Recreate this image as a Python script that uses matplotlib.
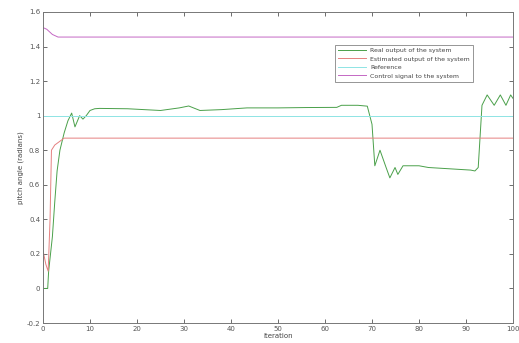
import numpy as np
import matplotlib.pyplot as plt

# values
t_real = [0, 1, 1.2, 2, 2.5, 3, 3.6, 4.5, 5.3, 6.1, 6.8, 7.8, 8.5, 9.2, 10, 11, 12, 18, 25,
          29, 31, 33.4, 38, 43.4, 50, 56, 62.5, 63.5, 67, 69, 70, 70.6, 71.7, 73, 73.8, 74.9,
          75.5, 76.6, 80, 82, 85, 88, 91, 91.9, 92.6, 93.4, 94.5, 96, 97.3, 98.5, 99.5, 100]
y_real = [0, 0, 0.1, 0.3, 0.5, 0.68, 0.8, 0.9, 0.97, 1.015, 0.935, 1.0, 0.98, 1.0, 1.03, 1.04, 1.042, 1.04, 1.03,
          1.045, 1.056, 1.03, 1.035, 1.045, 1.045, 1.047, 1.048, 1.06, 1.06, 1.055, 0.95, 0.71, 0.80, 0.70, 0.64, 0.70,
          0.66, 0.71, 0.71, 0.70, 0.695, 0.69, 0.685, 0.68, 0.70, 1.06, 1.12, 1.06, 1.12, 1.06, 1.12, 1.10]

t_est = [0, 0.6, 1.1, 1.5, 1.8, 2.5, 3.5, 4.5, 100]
y_est = [0.22, 0.14, 0.1, 0.4, 0.8, 0.83, 0.85, 0.87, 0.87]

t_ref = [0, 100]
y_ref = [1.0, 1.0]

t_ctrl = [0, 0.8, 2, 3.2, 100]
y_ctrl = [1.51, 1.50, 1.47, 1.455, 1.455]

labels = ['Real output of the system', 'Estimated output of the system',
          'Reference', 'Control signal to the system']

fig = plt.figure(figsize=(5.19, 3.43), dpi=100)
ax = fig.add_axes([43 / 519, 20 / 343, 470 / 519, 311 / 343])

ax.plot(t_real, y_real, color='#4aa04a', lw=0.7, label=labels[0])
ax.plot(t_est, y_est, color='#e58080', lw=0.7, label=labels[1])
ax.plot(t_ref, y_ref, color='#8ee4e4', lw=0.7, label=labels[2])
ax.plot(t_ctrl, y_ctrl, color='#c468c4', lw=0.7, label=labels[3])

ax.set_xlim(0, 100)
ax.set_ylim(-0.2, 1.6)
ax.set_xticks(np.arange(0, 101, 10))
ax.set_yticks(np.arange(-0.2, 1.61, 0.2))
ax.set_yticklabels(['-0.2', '0', '0.2', '0.4', '0.6', '0.8', '1', '1.2', '1.4', '1.6'])
ax.tick_params(direction='in', top=True, right=True, labelsize=5, length=3,
               width=0.6, colors='#555555', pad=2)
for s in ax.spines.values():
    s.set_color('#777777')
    s.set_linewidth(0.7)

ax.set_xlabel('iteration', fontsize=5, color='#444444', labelpad=1)
ax.set_ylabel('pitch angle (radians)', fontsize=5, color='#444444', labelpad=2)

leg = ax.legend(loc='upper left', bbox_to_anchor=(0.615, 0.905), fontsize=4.5,
                handlelength=4.5, frameon=True, fancybox=False, borderpad=0.5,
                labelspacing=0.5, handletextpad=0.6)
leg.get_frame().set_edgecolor('#666666')
leg.get_frame().set_linewidth(0.6)
for txt in leg.get_texts():
    txt.set_color('#444444')

fig.savefig('out.png', dpi=100)
